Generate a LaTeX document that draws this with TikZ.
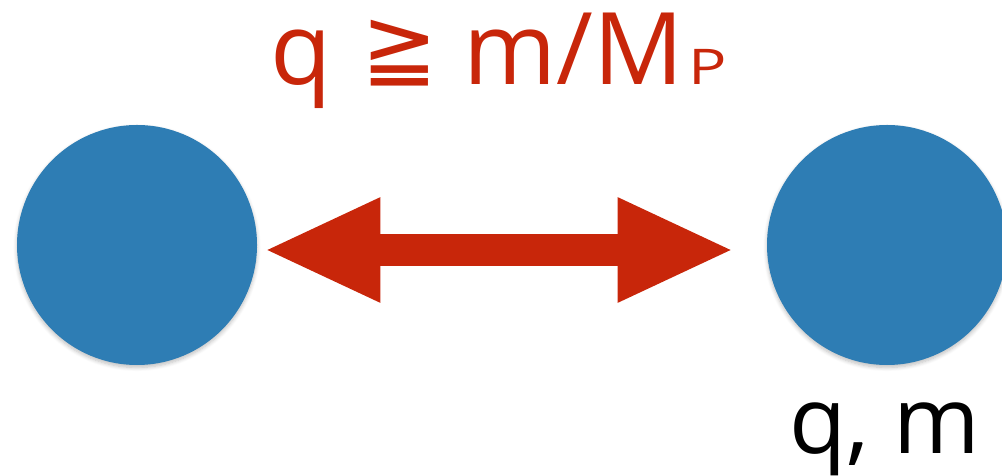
\documentclass[tikz,border=0pt]{standalone}
\usepackage{fontspec}
\setmainfont{Open Sans}
\newfontfamily\symfont{DejaVu Sans}
\usetikzlibrary{arrows.meta,shadows.blur}
\definecolor{ballblue}{HTML}{2E7DB4}
\definecolor{forcered}{HTML}{C8260A}

\begin{document}
\begin{tikzpicture}[x=0.2mm, y=-0.2mm,
  ball/.style={circle, fill=ballblue, minimum size=48mm, inner sep=0pt,
    blur shadow={shadow xshift=0pt, shadow yshift=-0.5mm, shadow blur steps=6, shadow opacity=25}},
  lbl/.style={anchor=base, inner sep=0pt},
  force/.style={forcered, line width=6.4mm,
    {Triangle[length=23.4mm, width=19.2mm]}-{Triangle[length=23.4mm, width=19.2mm]}}
]
\useasboundingbox (0,0) rectangle (1002,476);
\node[ball] (lball) at (137,245) {};
\node[ball] (rball) at (887,245) {};
\draw[force, shorten <=1.2mm, shorten >=6.4mm] ([yshift=-1mm]lball.east) -- ([yshift=-1mm]rball.west);

\node[lbl, text=forcered, font=\fontsize{57}{60}\selectfont] (cond) at (499,85)
  {q\hspace{0.3em}{\symfont\fontsize{52}{54}\selectfont\raisebox{1.2mm}{≧}}\hspace{0.25em}m/M\hspace{0.05em}{\fontsize{28}{30}\selectfont\scalebox{1.3}[1]{P}}};
\node[lbl, font=\fontsize{53}{56}\selectfont] (charge) at (885,453) {q, m};
\end{tikzpicture}
\end{document}
